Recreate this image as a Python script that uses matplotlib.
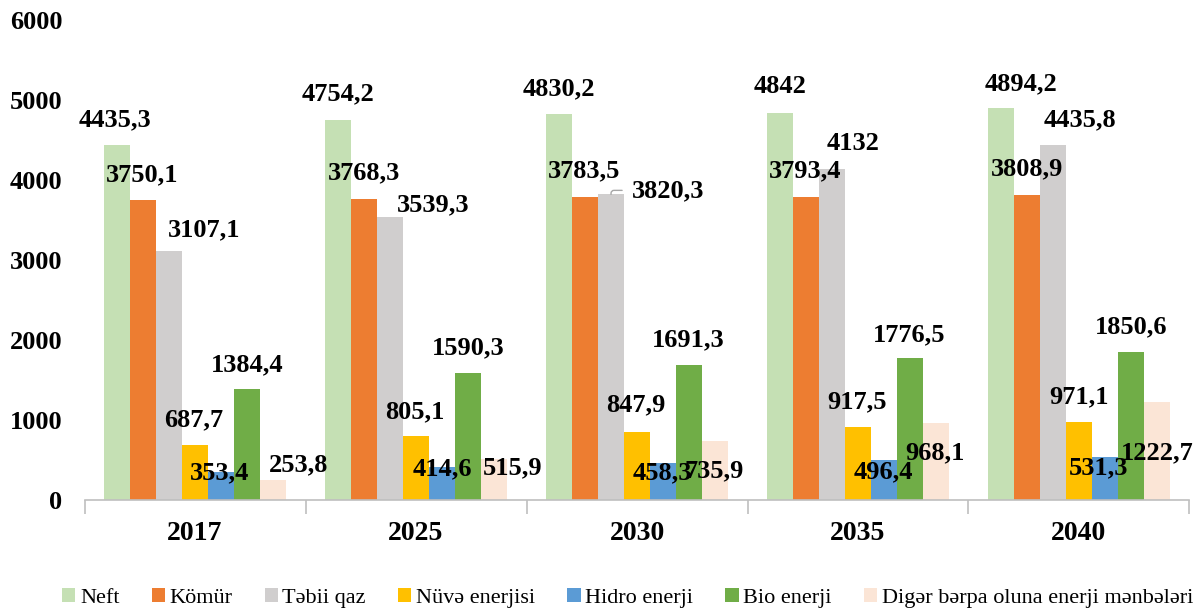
import matplotlib.pyplot as plt
import numpy as np

plt.rcParams['font.family'] = ['Liberation Serif', 'DejaVu Serif']

# data
years = ['2017', '2025', '2030', '2035', '2040']
series_names = ['Neft', 'Kömür', 'Təbii qaz', 'Nüvə enerjisi', 'Hidro enerji',
                'Bio enerji', 'Digər bərpa oluna enerji mənbələri']
neft = [4435.3, 4754.2, 4830.2, 4842, 4894.2]
komur = [3750.1, 3768.3, 3783.5, 3793.4, 3808.9]
tebii_qaz = [3107.1, 3539.3, 3820.3, 4132, 4435.8]
nuve = [687.7, 805.1, 847.9, 917.5, 971.1]
hidro = [353.4, 414.6, 458.3, 496.4, 531.3]
bio = [1384.4, 1590.3, 1691.3, 1776.5, 1850.6]
diger = [253.8, 515.9, 735.9, 968.1, 1222.7]
all_series = [neft, komur, tebii_qaz, nuve, hidro, bio, diger]

colors = ['#C5E0B4', '#ED7D31', '#D0CECE', '#FFC000', '#5B9BD5', '#70AD47', '#FBE5D6']

# label offsets (pixels) from bar top centre, one list per series
label_offsets = [
    [(-2, 25), (0, 26), (0, 25), (0, 26), (20, 25)],
    [(-1, 25), (0, 26), (-1, 26), (-1, 26), (0, 26)],
    [(35, 22), (43, 12), (57, 4), (21, 26), (27, 25)],
    [(-1, 25), (-1, 24), (-1, 27), (-1, 25), (0, 25)],
    [(-1, -1), (0, -2), (-1, -9), (-1, -12), (-6, -10)],
    [(0, 24), (0, 25), (-1, 25), (-1, 23), (0, 25)],
    [(26, 15), (19, -9), (-1, -30), (-1, -30), (0, -51)],
]

fig = plt.figure(figsize=(12.01, 6.15), dpi=100)
ax = fig.add_axes([0.0704, 0.187, 0.920, 0.7805])

x = np.arange(len(years))
w = 0.1176
n = len(all_series)
for i, (vals, name, col) in enumerate(zip(all_series, series_names, colors)):
    pos = x + (i - (n - 1) / 2) * w
    ax.bar(pos, vals, width=w, color=col, label=name, zorder=2)
    for j, v in enumerate(vals):
        txt = f"{v:g}".replace('.', ',')
        dx, dy = label_offsets[i][j]
        kw = {}
        if i == 2 and j == 2:
            # leader line for the moved label
            kw['arrowprops'] = dict(arrowstyle='-', color='#A6A6A6', lw=1,
                                    shrinkA=5, shrinkB=0,
                                    connectionstyle='angle,angleA=0,angleB=90,rad=3')
        ax.annotate(txt, xy=(pos[j], v), xytext=(dx, dy), textcoords='offset pixels',
                    ha='center', va='center', fontsize=19, fontweight='bold', zorder=5, **kw)

ax.set_xlim(-0.5, len(years) - 0.5)
ax.set_ylim(0, 6000)
ax.set_yticks(np.arange(0, 6001, 1000))
ax.tick_params(axis='y', length=0, pad=16, labelsize=19)
for lbl in ax.get_yticklabels():
    lbl.set_fontweight('bold')

# category labels and separator ticks
ax.set_xticks(np.arange(-0.5, len(years), 1.0))
ax.set_xticklabels([])
ax.tick_params(axis='x', length=10, color='#BFBFBF', width=1.2)
ax.set_xticks(x, minor=True)
ax.set_xticklabels(years, minor=True, fontsize=20, fontweight='bold')
ax.tick_params(axis='x', which='minor', length=0, pad=15)

for s in ['top', 'right', 'left']:
    ax.spines[s].set_visible(False)
ax.spines['bottom'].set_color('#BFBFBF')
ax.spines['bottom'].set_linewidth(1.2)

fig.legend(loc='center', bbox_to_anchor=(0.5225, 0.028), ncol=7, frameon=False,
           fontsize=16, handlelength=0.6, handleheight=0.6, handletextpad=0.2,
           columnspacing=1.45, borderpad=0)

plt.savefig('out.png', dpi=100)
